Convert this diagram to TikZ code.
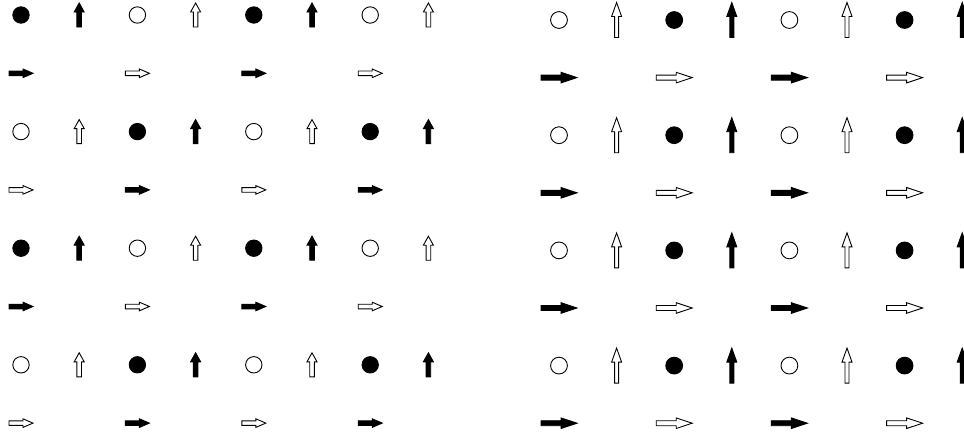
\documentclass[tikz,border=0pt]{standalone}
\usepackage{tikz}
\tikzset{
  filledspin/.style={draw=black, fill=black, line width=0.9pt},
  openspin/.style={draw=black, fill=white, line width=0.9pt},
  smallup/.pic={\path[pic actions] (-2.3,12) -- (-2.3,-3) -- (-5,-3) -- (0,-12) -- (5,-3) -- (2.3,-3) -- (2.3,12) -- cycle;},
  smallright/.pic={\path[pic actions] (-12,-2.3) -- (2,-2.3) -- (2,-4.3) -- (12,0) -- (2,4.3) -- (2,2.3) -- (-12,2.3) -- cycle;},
  bigup/.pic={\path[pic actions] (-2,17.5) -- (-2,-3.5) -- (-5,-3.5) -- (0,-17.5) -- (5,-3.5) -- (2,-3.5) -- (2,17.5) -- cycle;},
  bigright/.pic={\path[pic actions] (-18,-2.5) -- (2,-2.5) -- (2,-5.3) -- (18,0) -- (2,5.3) -- (2,2.5) -- (-18,2.5) -- cycle;}
}

\begin{document}
\begin{tikzpicture}[x=1pt, y=-1pt]
  \useasboundingbox (0,0) rectangle (964,437);

  % left lattice: alternating order
  \foreach \j in {0,2,4,6} {
    \foreach \i in {0,2,4,6} {
      \pgfmathtruncatemacro{\odd}{mod((\i+\j)/2,2)}
      \ifnum\odd=0 \def\look{filledspin}\else\def\look{openspin}\fi
      \draw[\look] ({21+58.2*\i},{15+58.3*\j}) circle (8.2);
      \pic[\look] at ({21+58.2*(\i+1)},{15+58.3*\j}) {smallup};
      \pic[\look] at ({21+58.2*\i},{15+58.3*(\j+1)}) {smallright};
    }
  }

  % right lattice: every row the same
  \foreach \j in {0,2,4,6} {
    \foreach \i in {0,4} {
      \draw[openspin] ({559+57.6*\i},{20+57.6*\j}) circle (8.4);
      \pic[openspin] at ({559+57.6*(\i+1)},{20+57.6*\j}) {bigup};
      \draw[filledspin] ({559+57.6*(\i+2)},{20+57.6*\j}) circle (8.4);
      \pic[filledspin] at ({559+57.6*(\i+3)},{20+57.6*\j}) {bigup};
      \pic[filledspin] at ({559+57.6*\i},{20+57.6*(\j+1)}) {bigright};
      \pic[openspin] at ({559+57.6*(\i+2)},{20+57.6*(\j+1)}) {bigright};
    }
  }
\end{tikzpicture}
\end{document}
